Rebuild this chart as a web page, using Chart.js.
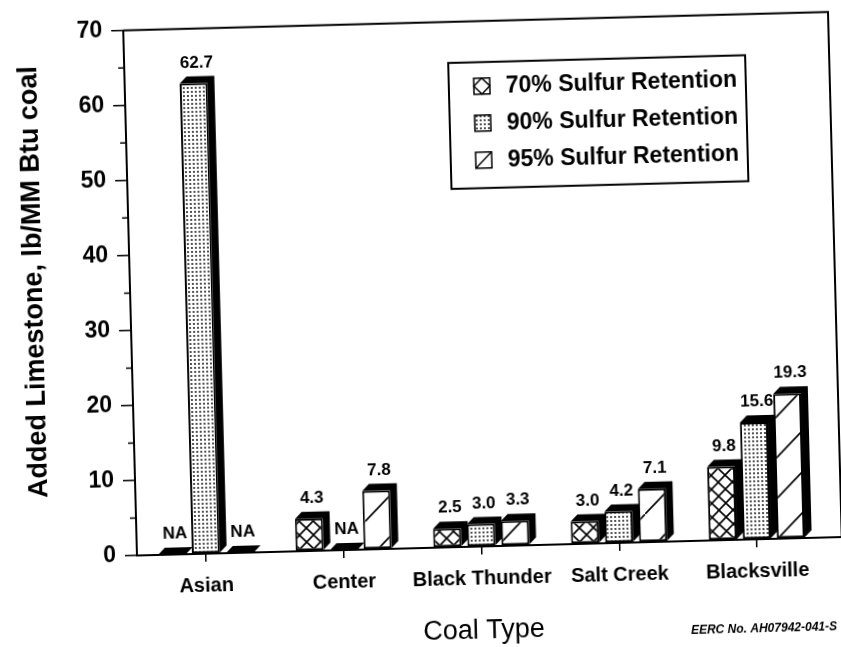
<!DOCTYPE html>
<html>
<head>
<meta charset="utf-8">
<script src="https://cdn.jsdelivr.net/npm/chart.js@4.4.1/dist/chart.umd.min.js"></script>
<style>
  html, body { margin: 0; padding: 0; background: #fff; overflow: hidden; }
  #wrap { width: 841px; height: 647px; transform: rotate(-1.5deg); transform-origin: 50% 50%; }
</style>
</head>
<body>
<div id="wrap"><canvas id="chart"></canvas></div>
<script>
const categories = ['Asian', 'Center', 'Black Thunder', 'Salt Creek', 'Blacksville'];
const seriesNames = ['70% Sulfur Retention', '90% Sulfur Retention', '95% Sulfur Retention'];
// null = NA in the original figure
const ret70 = [null, 4.3, 2.5, 3.0, 9.8];
const ret90 = [62.7, null, 3.0, 4.2, 15.6];
const ret95 = [null, 7.8, 3.3, 7.1, 19.3];
const yTicks = [0, 10, 20, 30, 40, 50, 60, 70];
const seriesValues = [ret70, ret90, ret95];

const FONT = '"Liberation Sans", Arial, Helvetica, sans-serif';
const DX = 7, DY = 7; // depth of the 3D boxes

function makePattern(kind) {
  const c = document.createElement('canvas');
  const size = kind === 'cross' ? 14 : (kind === 'dots' ? 4 : 40);
  c.width = size; c.height = size;
  const g = c.getContext('2d');
  g.fillStyle = '#fff';
  g.fillRect(0, 0, size, size);
  g.strokeStyle = '#000';
  g.fillStyle = '#000';
  if (kind === 'cross') {
    g.lineWidth = 1.6;
    g.beginPath();
    g.moveTo(0, 0); g.lineTo(size, size);
    g.moveTo(size, 0); g.lineTo(0, size);
    g.stroke();
  } else if (kind === 'dots') {
    g.beginPath();
    g.arc(2, 2, 0.9, 0, Math.PI * 2);
    g.fill();
  } else {
    g.lineWidth = 1.6;
    g.beginPath();
    g.moveTo(-2, size + 2); g.lineTo(size + 2, -2);
    g.stroke();
  }
  return g.createPattern(c, 'repeat');
}
const patterns = [makePattern('cross'), makePattern('dots'), makePattern('diag')];

const threeD = {
  id: 'threeD',
  afterDatasetsDraw(chart) {
    const ctx = chart.ctx;
    ctx.save();
    chart.data.datasets.forEach((ds, di) => {
      const meta = chart.getDatasetMeta(di);
      meta.data.forEach((bar, i) => {
        const raw = seriesValues[di][i];
        const x0 = bar.x - bar.width / 2, x1 = bar.x + bar.width / 2;
        const top = bar.y, base = bar.base;
        ctx.fillStyle = '#000';
        ctx.beginPath();
        if (raw === null) {
          ctx.moveTo(x0, base);
          ctx.lineTo(x0 + DX, base - DY);
          ctx.lineTo(x1 + DX, base - DY);
          ctx.lineTo(x1, base);
        } else {
          ctx.moveTo(x0, top);
          ctx.lineTo(x0 + DX, top - DY);
          ctx.lineTo(x1 + DX, top - DY);
          ctx.lineTo(x1 + DX, base - DY);
          ctx.lineTo(x1, base);
          ctx.lineTo(x1, top);
        }
        ctx.closePath();
        ctx.fill();
        ctx.font = 'bold 17px ' + FONT;
        ctx.textAlign = 'center';
        ctx.textBaseline = 'bottom';
        ctx.fillText(raw === null ? 'NA' : raw.toFixed(1), bar.x + DX / 2, top - DY - 5);
      });
    });
    ctx.restore();
  }
};

const frame = {
  id: 'frame',
  afterDraw(chart) {
    const ctx = chart.ctx;
    const a = chart.chartArea;
    const y = chart.scales.y;
    const right = a.right + 16;
    ctx.save();
    ctx.strokeStyle = '#000';
    ctx.lineWidth = 2;
    ctx.beginPath();
    ctx.moveTo(a.left, a.top); ctx.lineTo(right, a.top); ctx.lineTo(right, a.bottom);
    ctx.moveTo(a.right, a.bottom); ctx.lineTo(right, a.bottom);
    ctx.stroke();
    // minor ticks
    ctx.lineWidth = 1.5;
    ctx.beginPath();
    for (let v = 5; v < 70; v += 10) {
      const py = y.getPixelForValue(v);
      ctx.moveTo(a.left - 6, py); ctx.lineTo(a.left, py);
    }
    ctx.stroke();

    // legend
    const lx = a.left + 324, ly = a.top + 41, lw = 297, lh = 126;
    ctx.lineWidth = 2;
    ctx.strokeRect(lx, ly, lw, lh);
    seriesNames.forEach((name, i) => {
      const cy = ly + 24 + i * 37;
      const ix = lx + 25, iy = cy - 8, s = 16;
      ctx.fillStyle = i === 1 ? patterns[1] : '#fff';
      ctx.fillRect(ix, iy, s, s);
      ctx.lineWidth = 1.5;
      ctx.strokeRect(ix, iy, s, s);
      ctx.beginPath();
      if (i === 0) {
        ctx.moveTo(ix + s / 2, iy); ctx.lineTo(ix + s, iy + s / 2);
        ctx.lineTo(ix + s / 2, iy + s); ctx.lineTo(ix, iy + s / 2); ctx.closePath();
      } else if (i === 2) {
        ctx.moveTo(ix, iy + s); ctx.lineTo(ix + s, iy);
      }
      ctx.stroke();
      ctx.fillStyle = '#000';
      ctx.font = 'bold 23px ' + FONT;
      ctx.textAlign = 'left';
      ctx.textBaseline = 'middle';
      ctx.fillText(name, lx + 57, cy + 1);
    });

    // axis titles
    ctx.fillStyle = '#000';
    ctx.font = 'bold 27px ' + FONT;
    ctx.textAlign = 'center';
    ctx.textBaseline = 'middle';
    ctx.save();
    ctx.translate(36, 272);
    ctx.rotate(-Math.PI / 2);
    ctx.fillText('Added Limestone, lb/MM Btu coal', 0, 0);
    ctx.restore();
    ctx.font = '27px ' + FONT;
    ctx.fillText('Coal Type', 476, 633);
    ctx.font = 'italic bold 12px ' + FONT;
    ctx.textAlign = 'right';
    ctx.fillText('EERC No. AH07942-041-S', 829, 638);
    ctx.restore();
  }
};

const ctx = document.getElementById('chart');
new Chart(ctx, {
  type: 'bar',
  data: {
    labels: categories,
    datasets: seriesValues.map((vals, i) => ({
      label: seriesNames[i],
      data: vals.map(v => v === null ? 0 : v),
      backgroundColor: patterns[i],
      borderColor: '#000',
      borderWidth: vals.map(v => v === null ? 0 : 2),
      borderSkipped: false,
      barPercentage: 0.82,
      categoryPercentage: 0.74
    }))
  },
  options: {
    responsive: true,
    maintainAspectRatio: false,
    animation: false,
    devicePixelRatio: 1,
    layout: { padding: { top: 22, right: 21, bottom: 0, left: 0 } },
    plugins: { legend: { display: false }, tooltip: { enabled: false } },
    scales: {
      x: {
        afterFit: s => { s.height = 99; },
        grid: { display: true, drawOnChartArea: false, offset: false, tickLength: 8, color: '#000', lineWidth: 1.5 },
        border: { display: true, color: '#000', width: 2 },
        ticks: { color: '#000', padding: 12, autoSkip: false, maxRotation: 0, font: { family: FONT, size: 20, weight: 'bold' } }
      },
      y: {
        min: 0, max: 70,
        afterFit: s => { s.width = 131; },
        afterBuildTicks: s => { s.ticks = yTicks.map(v => ({ value: v })); },
        grid: { display: true, drawOnChartArea: false, tickLength: 12, color: '#000', lineWidth: 1.5 },
        border: { display: true, color: '#000', width: 2 },
        ticks: { color: '#000', padding: 9, font: { family: FONT, size: 23, weight: 'bold' } }
      }
    }
  },
  plugins: [threeD, frame]
});
</script>
</body>
</html>
